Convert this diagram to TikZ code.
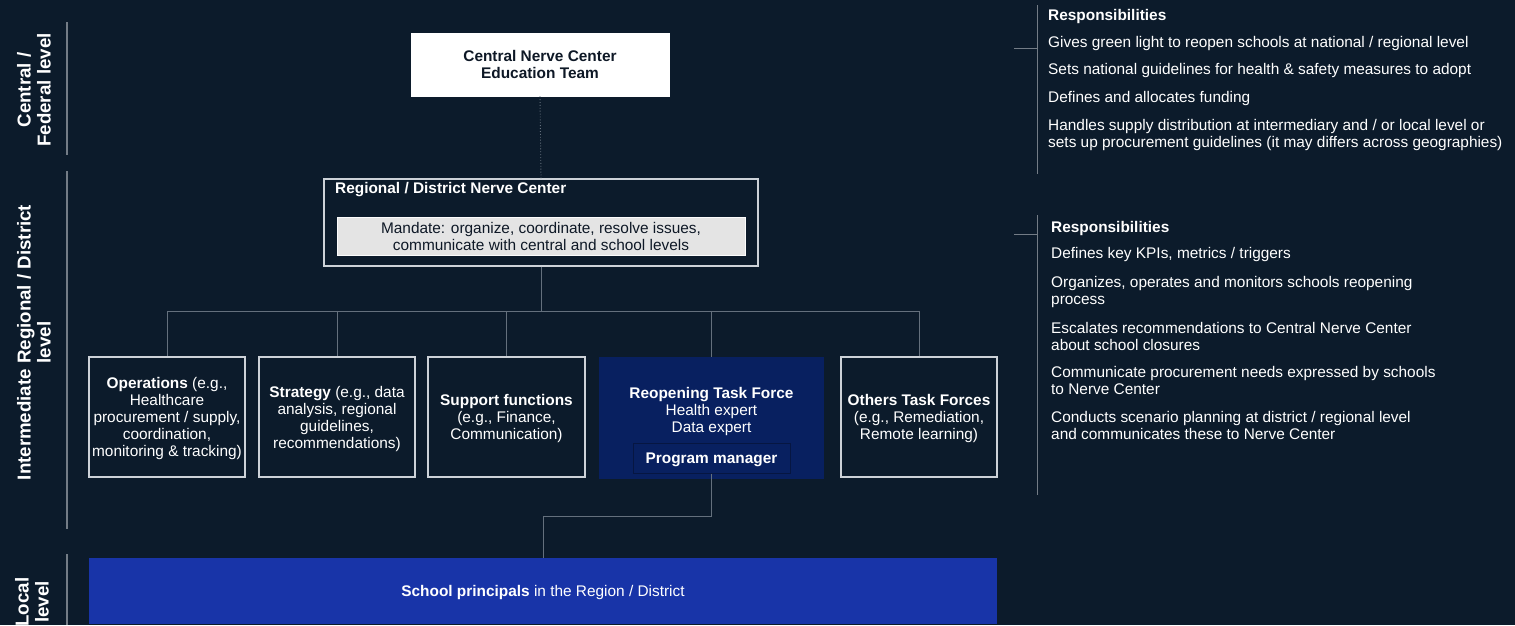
\documentclass[tikz,border=0pt]{standalone}
\usepackage{fontspec}
\setmainfont{Liberation Sans}
\definecolor{bg}{RGB}{12,27,43}
\definecolor{boxline}{RGB}{205,210,216}
\definecolor{conn}{RGB}{100,112,125}
\definecolor{divline}{RGB}{115,124,134}
\definecolor{tfblue}{RGB}{8,32,96}
\definecolor{pmline}{RGB}{6,22,66}
\definecolor{schoolblue}{RGB}{24,52,168}
\definecolor{mandfill}{RGB}{228,228,228}
\definecolor{darktext}{RGB}{14,24,38}
\newcommand{\fs}{\fontsize{15.4}{17}\selectfont}
\newcommand{\fl}{\fontsize{18.7}{20}\selectfont\bfseries}
\tikzset{
  orgbox/.style={draw=boxline, line width=1.3pt, minimum width=156pt, minimum height=120pt, align=center, text=white, font=\fs, inner sep=2pt, text depth=-1pt},
  conline/.style={draw=conn, line width=0.9pt},
  divider/.style={draw=divline, line width=1.4pt},
  lvl/.style={rotate=90, align=center, text=white, font=\fl, inner sep=0pt},
  resp/.style={anchor=west, align=left, text=white, font=\fs, inner sep=0pt, yshift=-2pt},
}
\begin{document}
\begin{tikzpicture}[x=1pt,y=-1pt]
\fill[bg] (0,0) rectangle (1515,625);
\useasboundingbox (0,0) rectangle (1515,625);

% level labels and dividers
\node[lvl] (lcentral) at (34,90) {Central /\\Federal level};
\node[lvl] (linter) at (34,342.5) {Intermediate Regional / District\\level};
\node[lvl] (llocal) at (32,602) {Local\\level};
\draw[divider] (67,22) -- (67,155);
\draw[divider] (67,171) -- (67,529);
\draw[divider] (67,554) -- (67,625);

% central
\node[draw=white, fill=white, minimum width=258pt, minimum height=63pt, align=center, text=darktext, font=\fs\bfseries, text depth=-3.5pt] (cnc) at (540,64.5) {Central Nerve Center\\Education Team};

% regional
\node[draw=boxline, line width=1.3pt, minimum width=434pt, minimum height=87pt] (rdnc) at (541,222.5) {};
\node[anchor=west, text=white, font=\fs\bfseries, inner sep=0pt, yshift=-2pt] (rdtitle) at (335,188) {Regional / District Nerve Center};
\node[draw=white!90!mandfill, fill=mandfill, line width=0.6pt, minimum width=408pt, minimum height=38pt, align=center, text=darktext, font=\fs, inner sep=0pt] (mand) at (541,236) {Mandate: organize, coordinate, resolve issues,\\communicate with central and school levels};

\draw[conline, dotted] (cnc.south) -- (rdnc.north);

% functions
\node[orgbox] (ops) at (167,417) {\textbf{Operations} (e.g.,\\Healthcare\\procurement / supply,\\coordination,\\monitoring \& tracking)};
\node[orgbox] (strat) at (337,417) {\textbf{Strategy} (e.g., data\\analysis, regional\\guidelines,\\recommendations)};
\node[orgbox, minimum width=157pt] (supp) at (506.5,417) {\textbf{Support functions}\\(e.g., Finance,\\Communication)};
\node[fill=tfblue, minimum width=225pt, minimum height=122pt, inner sep=0pt] (rtf) at (711.5,418) {};
\node[align=center, text=white, font=\fs, inner sep=0pt] (rtftext) at (711.5,412) {\textbf{Reopening Task Force}\\Health expert\\Data expert};
\node[draw=pmline, fill=tfblue, line width=1pt, minimum width=157pt, minimum height=30pt, text=white, font=\fs\bfseries, inner sep=0pt, text depth=-2pt] (pm) at (711.5,458) {Program manager};
\node[orgbox] (oth) at (919,417) {\textbf{Others Task Forces}\\(e.g., Remediation,\\Remote learning)};

\coordinate (bus) at (0,311);
\draw[conline] (rdnc.south) -- (rdnc.south |- bus);
\draw[conline] (ops.north |- bus) -- (oth.north |- bus);
\foreach \n in {ops,strat,supp,rtf,oth} {
  \draw[conline] (\n.north |- bus) -- (\n.north);
}

% school
\node[fill=schoolblue, minimum width=908pt, minimum height=66pt, text=white, font=\fs, inner sep=0pt, text depth=-1pt] (school) at (543,591) {\textbf{School principals} in the Region / District};
\coordinate (elbow) at (0,516);
\draw[conline] (pm.south) -- (pm.south |- elbow) -| (school.north);

% responsibilities central
\draw[divider, line width=1pt] (1037,5) -- (1037,174);
\draw[divider, line width=1pt] (1014,48) -- (1037,48);
\node[resp, font=\fs\bfseries] (r1h) at (1048,15) {Responsibilities};
\node[resp] (r1a) at (1048,42) {Gives green light to reopen schools at national / regional level};
\node[resp] (r1b) at (1048,69) {Sets national guidelines for health \& safety measures to adopt};
\node[resp] (r1c) at (1048,97) {Defines and allocates funding};
\node[resp] (r1d) at (1048,133) {Handles supply distribution at intermediary and / or local level or\\sets up procurement guidelines (it may differs across geographies)};

% responsibilities regional
\draw[divider, line width=1pt] (1037,215) -- (1037,495);
\draw[divider, line width=1pt] (1014,234) -- (1037,234);
\node[resp, font=\fs\bfseries] (r2h) at (1051,226.5) {Responsibilities};
\node[resp] (r2a) at (1051,253) {Defines key KPIs, metrics / triggers};
\node[resp] (r2b) at (1051,290) {Organizes, operates and monitors schools reopening\\process};
\node[resp] (r2c) at (1051,334) {Escalates recommendations to Central Nerve Center\\about school closures};
\node[resp] (r2d) at (1051,378.5) {Communicate procurement needs expressed by schools\\to Nerve Center};
\node[resp] (r2e) at (1051,423) {Conducts scenario planning at district / regional level\\and communicates these to Nerve Center};
\end{tikzpicture}
\end{document}
